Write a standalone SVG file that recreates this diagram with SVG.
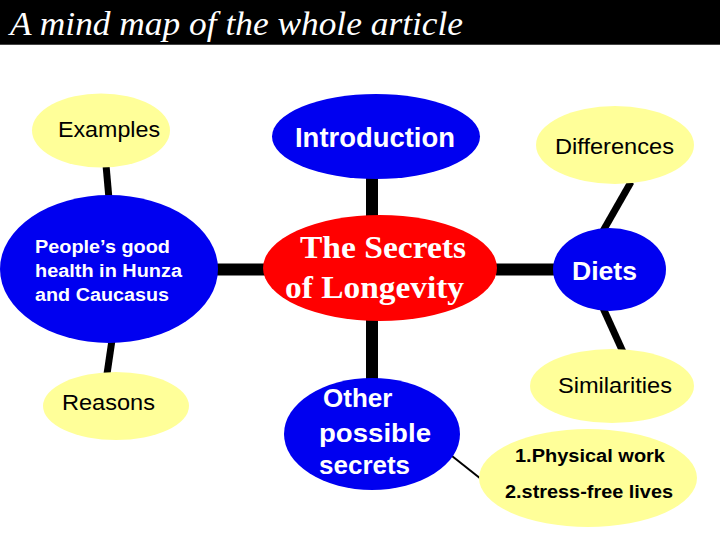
<svg xmlns="http://www.w3.org/2000/svg" width="720" height="540" viewBox="0 0 720 540">
<style>
.blue{fill:#0000f0}
.red{fill:#ff0000}
.yel{fill:#ffff99}
.bw{font-family:"Liberation Sans",Arial,sans-serif;font-weight:bold;fill:#fff}
.bk{font-family:"Liberation Sans",Arial,sans-serif;fill:#000}
.bb{font-family:"Liberation Sans",Arial,sans-serif;font-weight:bold;fill:#000}
.serif{font-family:"Liberation Serif","Times New Roman",serif;font-size:31px;font-weight:bold;fill:#fff}
.thick{stroke:#000;stroke-width:12;fill:none}
.mid{stroke:#000;stroke-width:7;fill:none}
.thin{stroke:#000;stroke-width:2;fill:none}
</style>
<rect width="720" height="540" fill="#fff"/>
<g id="title">
<rect x="0" y="0" width="720" height="45" fill="#000"/>
<line x1="0" y1="44.5" x2="720" y2="44.5" stroke="#444" stroke-width="1"/>
<text x="10" y="35" font-family="Liberation Serif,'Times New Roman',serif" font-style="italic" font-size="33" fill="#fff" textLength="453" lengthAdjust="spacingAndGlyphs">A mind map of the whole article</text>
</g>
<g id="connectors">
<line class="thick" x1="372" y1="178" x2="372" y2="217"/>
<line class="thick" x1="216" y1="269.5" x2="265" y2="269.5"/>
<line class="thick" x1="496" y1="269.5" x2="555" y2="269.5"/>
<line class="thick" x1="372" y1="320" x2="372" y2="380"/>
<line class="mid" x1="106" y1="165" x2="109" y2="199"/>
<line class="mid" x1="112" y1="340" x2="107" y2="374"/>
<line class="mid" x1="631" y1="182" x2="603" y2="231"/>
<line class="mid" x1="603" y1="308" x2="623" y2="352"/>
<line class="thin" x1="452" y1="456" x2="481" y2="479"/>
</g>
<g id="center">
<ellipse class="red" cx="380" cy="268" rx="117" ry="53"/>
<text class="serif" x="383" y="258" text-anchor="middle" textLength="166" lengthAdjust="spacingAndGlyphs">The Secrets</text>
<text class="serif" x="374.5" y="298" text-anchor="middle" textLength="179" lengthAdjust="spacingAndGlyphs">of Longevity</text>
</g>
<g id="introduction">
<ellipse class="blue" cx="376" cy="136.5" rx="104" ry="42.5"/>
<text class="bw" x="375" y="147" font-size="27" text-anchor="middle" textLength="160" lengthAdjust="spacingAndGlyphs">Introduction</text>
</g>
<g id="people">
<ellipse class="blue" cx="109" cy="269" rx="109" ry="74"/>
<text class="bw" x="35" y="253" font-size="18" textLength="135" lengthAdjust="spacingAndGlyphs">People’s good</text>
<text class="bw" x="35" y="277" font-size="18" textLength="147" lengthAdjust="spacingAndGlyphs">health in Hunza</text>
<text class="bw" x="35" y="301" font-size="18" textLength="134" lengthAdjust="spacingAndGlyphs">and Caucasus</text>
</g>
<g id="examples">
<ellipse class="yel" cx="101" cy="130.5" rx="69" ry="37"/>
<text class="bk" x="58" y="137" font-size="22" textLength="102" lengthAdjust="spacingAndGlyphs">Examples</text>
</g>
<g id="reasons">
<ellipse class="yel" cx="116" cy="406" rx="73" ry="34"/>
<text class="bk" x="62" y="410" font-size="22" textLength="93" lengthAdjust="spacingAndGlyphs">Reasons</text>
</g>
<g id="other">
<ellipse class="blue" cx="372" cy="434" rx="88" ry="56"/>
<text class="bw" x="323" y="407" font-size="26">Other</text>
<text class="bw" x="319" y="442" font-size="26" textLength="112" lengthAdjust="spacingAndGlyphs">possible</text>
<text class="bw" x="319" y="474" font-size="26">secrets</text>
</g>
<g id="physical">
<ellipse class="yel" cx="588" cy="478" rx="109" ry="49"/>
<text class="bb" x="515" y="462" font-size="18" textLength="150" lengthAdjust="spacingAndGlyphs">1.Physical work</text>
<text class="bb" x="505" y="498" font-size="18" textLength="168" lengthAdjust="spacingAndGlyphs">2.stress-free lives</text>
</g>
<g id="diets">
<ellipse class="blue" cx="609.5" cy="269.5" rx="56.5" ry="41.5"/>
<text class="bw" x="572" y="280" font-size="26" textLength="65" lengthAdjust="spacingAndGlyphs">Diets</text>
</g>
<g id="differences">
<ellipse class="yel" cx="615" cy="145" rx="79" ry="39"/>
<text class="bk" x="555" y="154" font-size="22" textLength="119" lengthAdjust="spacingAndGlyphs">Differences</text>
</g>
<g id="similarities">
<ellipse class="yel" cx="612" cy="386" rx="82" ry="37"/>
<text class="bk" x="558" y="393" font-size="22" textLength="114" lengthAdjust="spacingAndGlyphs">Similarities</text>
</g>
</svg>
